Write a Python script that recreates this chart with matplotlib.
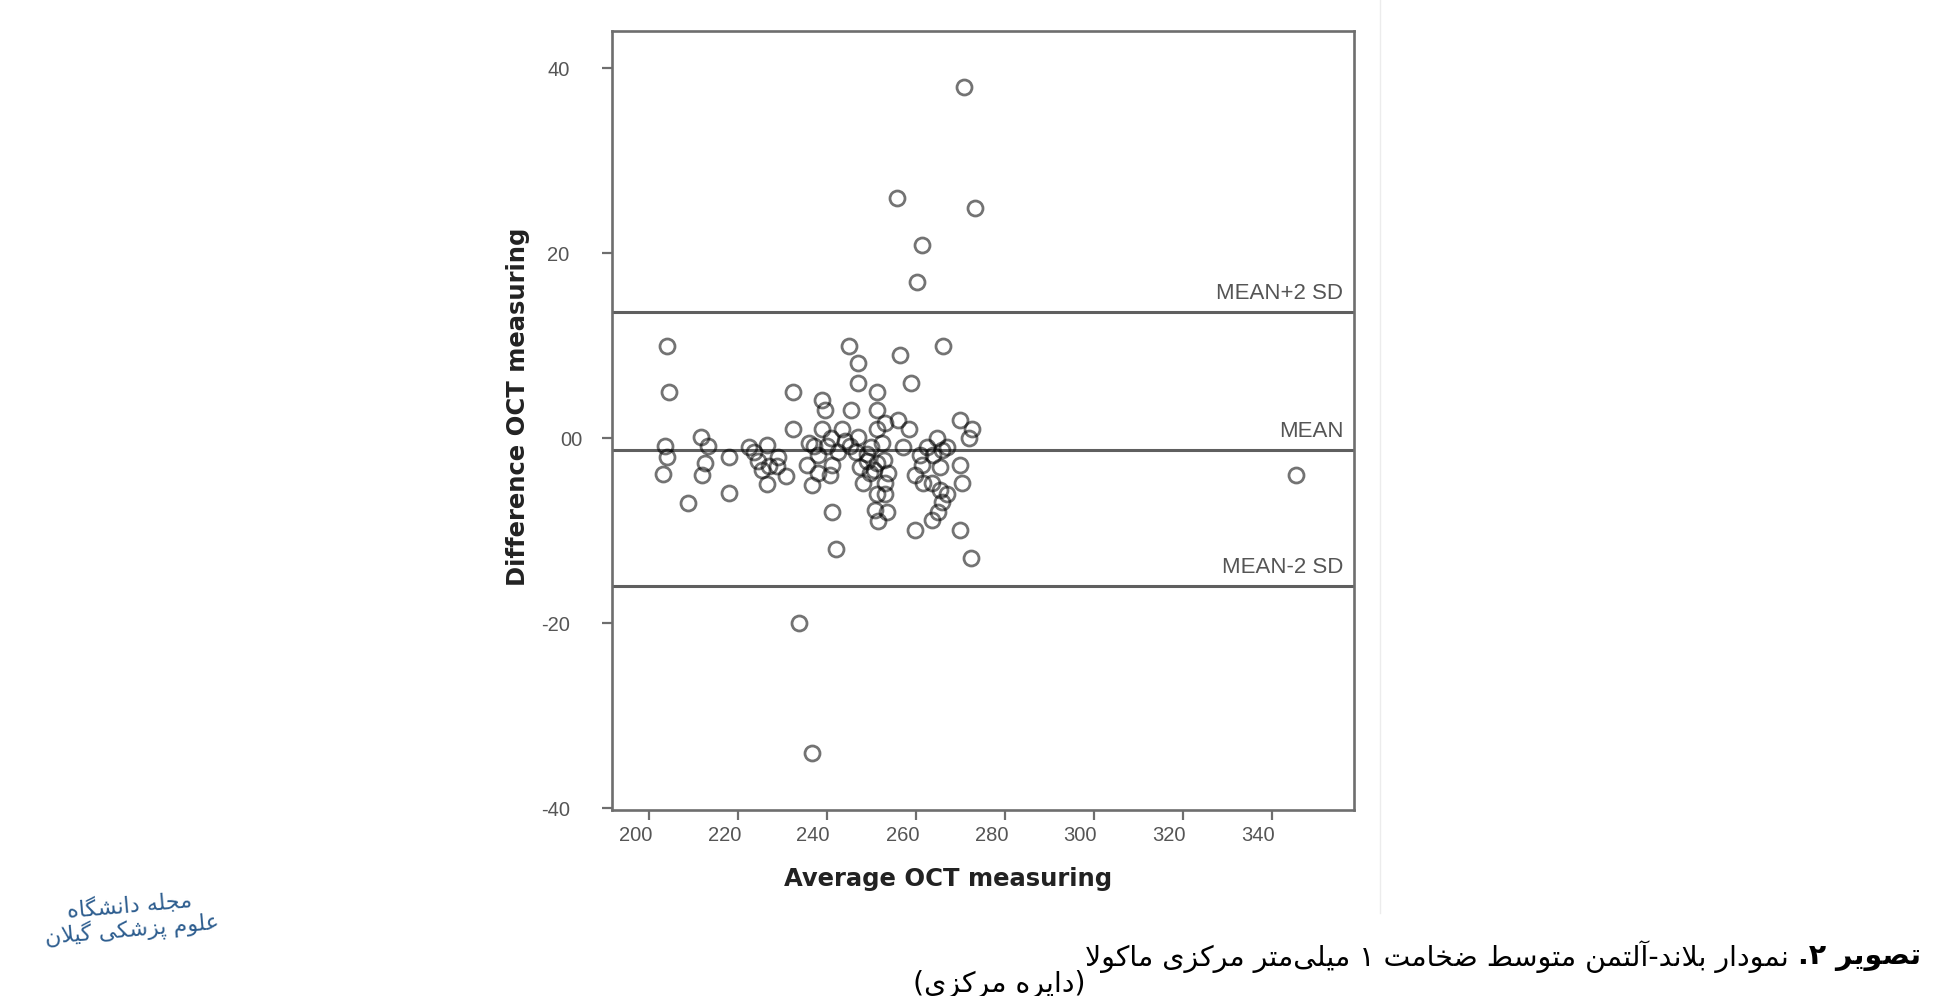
import matplotlib
matplotlib.use("Agg")
import matplotlib.pyplot as plt
from matplotlib.transforms import ScaledTranslation
from matplotlib.lines import Line2D

# ---------------- data ----------------
x_avg = [
    204.1, 204.6, 203.6, 204.0, 203.1, 208.7, 211.8, 213.3, 212.7, 212.0, 218.0, 218.0,
    222.5, 223.5, 224.5, 225.5, 226.5, 227.0, 228.7, 226.5, 230.9, 229.0,
    232.4, 232.4, 238.8, 239.6, 238.8, 237.0, 236.0, 239.9, 241.0, 243.3, 245.3, 245.0,
    247.0, 247.0, 235.4, 238.0, 236.6, 240.7, 241.1, 241.1, 242.0, 245.2, 244.0, 247.0,
    247.4, 248.2, 249.7, 251.2, 251.2, 250.8, 251.5, 248.9, 250.0, 251.3, 251.3, 251.2,
    253.0, 252.3, 252.7, 253.8, 253.0, 253.0, 253.4, 249.0, 250.5, 246.5, 242.5, 238.0,
    266.0, 256.4, 258.9, 256.0, 258.5, 264.8, 265.8, 260.9, 263.9, 261.3, 265.4, 259.8,
    261.6, 263.5, 265.4, 266.9, 265.8, 265.0, 263.5, 259.8, 269.9, 270.3, 269.9, 272.3,
    269.9, 272.5, 271.8, 267.0, 262.5, 257.0,
    270.7, 255.8, 273.2, 261.3, 260.2, 345.3, 233.8, 236.6,
]
y_diff = [
    10.0, 5.0, -0.9, -2.0, -3.9, -7.0, 0.1, -0.9, -2.7, -4.0, -2.0, -5.9,
    -1.0, -1.5, -2.5, -3.5, -0.8, -3.0, -3.0, -5.0, -4.1, -2.0,
    5.0, 1.0, 4.1, 3.0, 1.0, -0.9, -0.5, -0.9, 0.0, 1.0, 3.0, 10.0,
    8.1, 6.0, -2.9, -3.8, -5.1, -4.0, -2.9, -8.0, -12.0, -0.9, -0.3, 0.1,
    -3.1, -4.9, -3.8, -2.7, -6.0, -7.8, -9.0, -1.7, -1.0, 5.0, 3.0, 1.0,
    1.6, -0.5, -2.4, -3.8, -4.9, -6.0, -8.0, -2.5, -3.5, -1.5, -1.5, -1.8,
    10.0, 9.0, 6.0, 2.0, 1.0, 0.0, -1.3, -1.8, -1.8, -2.9, -3.1, -4.0,
    -4.9, -4.9, -5.6, -6.0, -6.9, -8.0, -8.9, -9.9, -2.9, -4.9, -9.9, -13.0,
    2.0, 1.0, 0.0, -1.0, -1.0, -1.0,
    38.0, 26.0, 24.9, 20.9, 16.9, -4.0, -20.0, -34.0,
]

mean_diff = -1.3
upper_loa = 13.6
lower_loa = -16.0
ref_lines = [upper_loa, mean_diff, lower_loa]
ref_labels = ["MEAN+2 SD", "MEAN", "MEAN-2 SD"]

x_ticks = [200, 220, 240, 260, 280, 300, 320, 340]
x_ticklabels = ["200", "220", "240", "260", "280", "300", "320", "340"]
y_ticks = [40, 20, 0, -20, -40]
y_ticklabels = ["40", "20", "00", "-20", "-40"]

x_title = "Average OCT measuring"
y_title = "Difference OCT measuring"

caption_bold = "تصویر ۲."
caption_rest = "نمودار بلاند-آلتمن متوسط ضخامت ۱ میلی\u200cمتر مرکزی ماکولا"
caption_line2 = "(دایره مرکزی)"
logo_lines = ["مجله دانشگاه", "علوم پزشکی گیلان"]

# ------------- simple Persian shaping -------------
FORMS = {
    '\u0627': ('R', '\uFE8D', '\uFE8E', '\uFE8D', '\uFE8E'),
    '\u0622': ('R', '\uFE81', '\uFE82', '\uFE81', '\uFE82'),
    '\u062F': ('R', '\uFEA9', '\uFEAA', '\uFEA9', '\uFEAA'),
    '\u0631': ('R', '\uFEAD', '\uFEAE', '\uFEAD', '\uFEAE'),
    '\u0632': ('R', '\uFEAF', '\uFEB0', '\uFEAF', '\uFEB0'),
    '\u0648': ('R', '\uFEED', '\uFEEE', '\uFEED', '\uFEEE'),
    '\u0628': ('D', '\uFE8F', '\uFE90', '\uFE91', '\uFE92'),
    '\u067E': ('D', '\uFB56', '\uFB57', '\uFB58', '\uFB59'),
    '\u062A': ('D', '\uFE95', '\uFE96', '\uFE97', '\uFE98'),
    '\u062C': ('D', '\uFE9D', '\uFE9E', '\uFE9F', '\uFEA0'),
    '\u062E': ('D', '\uFEA5', '\uFEA6', '\uFEA7', '\uFEA8'),
    '\u0633': ('D', '\uFEB1', '\uFEB2', '\uFEB3', '\uFEB4'),
    '\u0634': ('D', '\uFEB5', '\uFEB6', '\uFEB7', '\uFEB8'),
    '\u0635': ('D', '\uFEB9', '\uFEBA', '\uFEBB', '\uFEBC'),
    '\u0636': ('D', '\uFEBD', '\uFEBE', '\uFEBF', '\uFEC0'),
    '\u0637': ('D', '\uFEC1', '\uFEC2', '\uFEC3', '\uFEC4'),
    '\u0639': ('D', '\uFEC9', '\uFECA', '\uFECB', '\uFECC'),
    '\u0644': ('D', '\uFEDD', '\uFEDE', '\uFEDF', '\uFEE0'),
    '\u0645': ('D', '\uFEE1', '\uFEE2', '\uFEE3', '\uFEE4'),
    '\u0646': ('D', '\uFEE5', '\uFEE6', '\uFEE7', '\uFEE8'),
    '\u0647': ('D', '\uFEE9', '\uFEEA', '\uFEEB', '\uFEEC'),
    '\u06CC': ('D', '\uFBFC', '\uFBFD', '\uFBFE', '\uFBFF'),
    '\u06A9': ('D', '\uFB8E', '\uFB8F', '\uFB90', '\uFB91'),
    '\u06AF': ('D', '\uFB92', '\uFB93', '\uFB94', '\uFB95'),
}
MIRROR = {'(': ')', ')': '('}


def shape_rtl(text):
    chars = list(text)
    n = len(chars)
    out = []
    i = 0
    while i < n:
        c = chars[i]
        if c not in FORMS:
            if c != '\u200c':
                out.append(c)
            i += 1
            continue
        prev = chars[i - 1] if i > 0 else None
        prev_join = prev in FORMS and FORMS[prev][0] == 'D'
        if c == '\u0644' and i + 1 < n and chars[i + 1] in ('\u0627', '\u0622'):
            if chars[i + 1] == '\u0627':
                iso, fin = '\uFEFB', '\uFEFC'
            else:
                iso, fin = '\uFEF5', '\uFEF6'
            out.append(fin if prev_join else iso)
            i += 2
            continue
        nxt = chars[i + 1] if i + 1 < n else None
        t, iso, fin, ini, med = FORMS[c]
        next_join = t == 'D' and nxt in FORMS
        if prev_join and next_join:
            out.append(med)
        elif prev_join:
            out.append(fin)
        elif next_join:
            out.append(ini)
        else:
            out.append(iso)
        i += 1
    return ''.join(MIRROR.get(ch, ch) for ch in reversed(out))


# ---------------- figure ----------------
W, H, DPI = 1935, 996, 100
fig = plt.figure(figsize=(W / DPI, H / DPI), dpi=DPI)
fig.patch.set_facecolor("white")

ax = fig.add_axes([612 / W, 1 - 810 / H, (1354 - 612) / W, (810 - 31) / H])
ax.set_xlim(191.7, 358.4)
ax.set_ylim(-40.2, 44.0)

sans = ["Liberation Sans", "DejaVu Sans"]
tick_col = "#555555"
frame_col = "#6e6e6e"

for sp in ax.spines.values():
    sp.set_color(frame_col)
    sp.set_linewidth(1.9)

# reference lines
for yv, lab in zip(ref_lines, ref_labels):
    ax.axhline(yv, color="#5f5f5f", lw=2.2, zorder=2)
    ax.annotate(lab, xy=(356.0, yv), xytext=(0, 6), textcoords="offset points",
                ha="right", va="bottom", fontsize=16, color="#555555",
                family=sans)

# scatter points
ax.plot(x_avg, y_diff, linestyle="none", marker="o", ms=10.8,
        mfc="none", mec=(0, 0, 0, 0.55), mew=2.0, zorder=3)

# ticks
ax.set_xticks(x_ticks)
ax.set_xticklabels(x_ticklabels)
ax.set_yticks(y_ticks)
ax.set_yticklabels(y_ticklabels)
ax.tick_params(axis="x", direction="out", length=7.5, width=1.6, color=frame_col,
               labelsize=14.5, labelcolor=tick_col, pad=4, top=False)
ax.tick_params(axis="y", direction="out", length=7.5, width=1.6, color=frame_col,
               labelsize=14.5, labelcolor=tick_col, pad=23, right=False)
for lab in ax.get_xticklabels():
    lab.set_family(sans)
    lab.set_ha("right")
    lab.set_transform(lab.get_transform() + ScaledTranslation(3 / DPI, 0, fig.dpi_scale_trans))
for lab in ax.get_yticklabels():
    lab.set_family(sans)
    if lab.get_text() == "00":
        lab.set_transform(lab.get_transform() + ScaledTranslation(13 / DPI, 0, fig.dpi_scale_trans))

# axis titles
ax.set_xlabel(x_title, fontsize=17.5, fontweight="bold", color="#222222")
ax.xaxis.label.set_va("center")
ax.xaxis.set_label_coords((948 - 612) / 742, (810 - 879) / 779)
ax.set_ylabel(y_title, fontsize=17.5, fontweight="bold", color="#222222")
ax.yaxis.label.set_va("center")
ax.yaxis.label.set_ha("center")
ax.yaxis.set_label_coords((518 - 612) / 742, (810 - 407) / 779)

# faint border of the embedded image
fig.add_artist(Line2D([1380 / W, 1380 / W], [1 - 913 / H, 1.0], color="#ececec", lw=1.0))

# caption
cap_bold = fig.text(1921 / W, 1 - 957 / H, shape_rtl(caption_bold), ha="right", va="center",
                    fontsize=20.4, fontweight="bold", color="black", family="DejaVu Sans")
ann = fig.add_artist(plt.Annotation(shape_rtl(caption_rest) + " ", xy=(0, 0.5),
                                    xycoords=cap_bold, ha="right", va="center",
                                    fontsize=20.4, color="black", family="DejaVu Sans"))
ann2 = fig.add_artist(plt.Annotation(shape_rtl(caption_line2), xy=(0, 0.5),
                                     xycoords=ann, xytext=(0, -20),
                                     textcoords="offset points", ha="right", va="center",
                                     fontsize=20.4, color="black", family="DejaVu Sans"))

# journal logo (wrapped onto two lines)
fig.text(131 / W, 1 - 918 / H, "\n".join(shape_rtl(s) for s in logo_lines),
         ha="center", va="center", multialignment="center", linespacing=1.05,
         fontsize=16, color="#2d5d8f", family="DejaVu Sans", rotation=5)

fig.savefig("out.png", dpi=DPI, facecolor="white")
